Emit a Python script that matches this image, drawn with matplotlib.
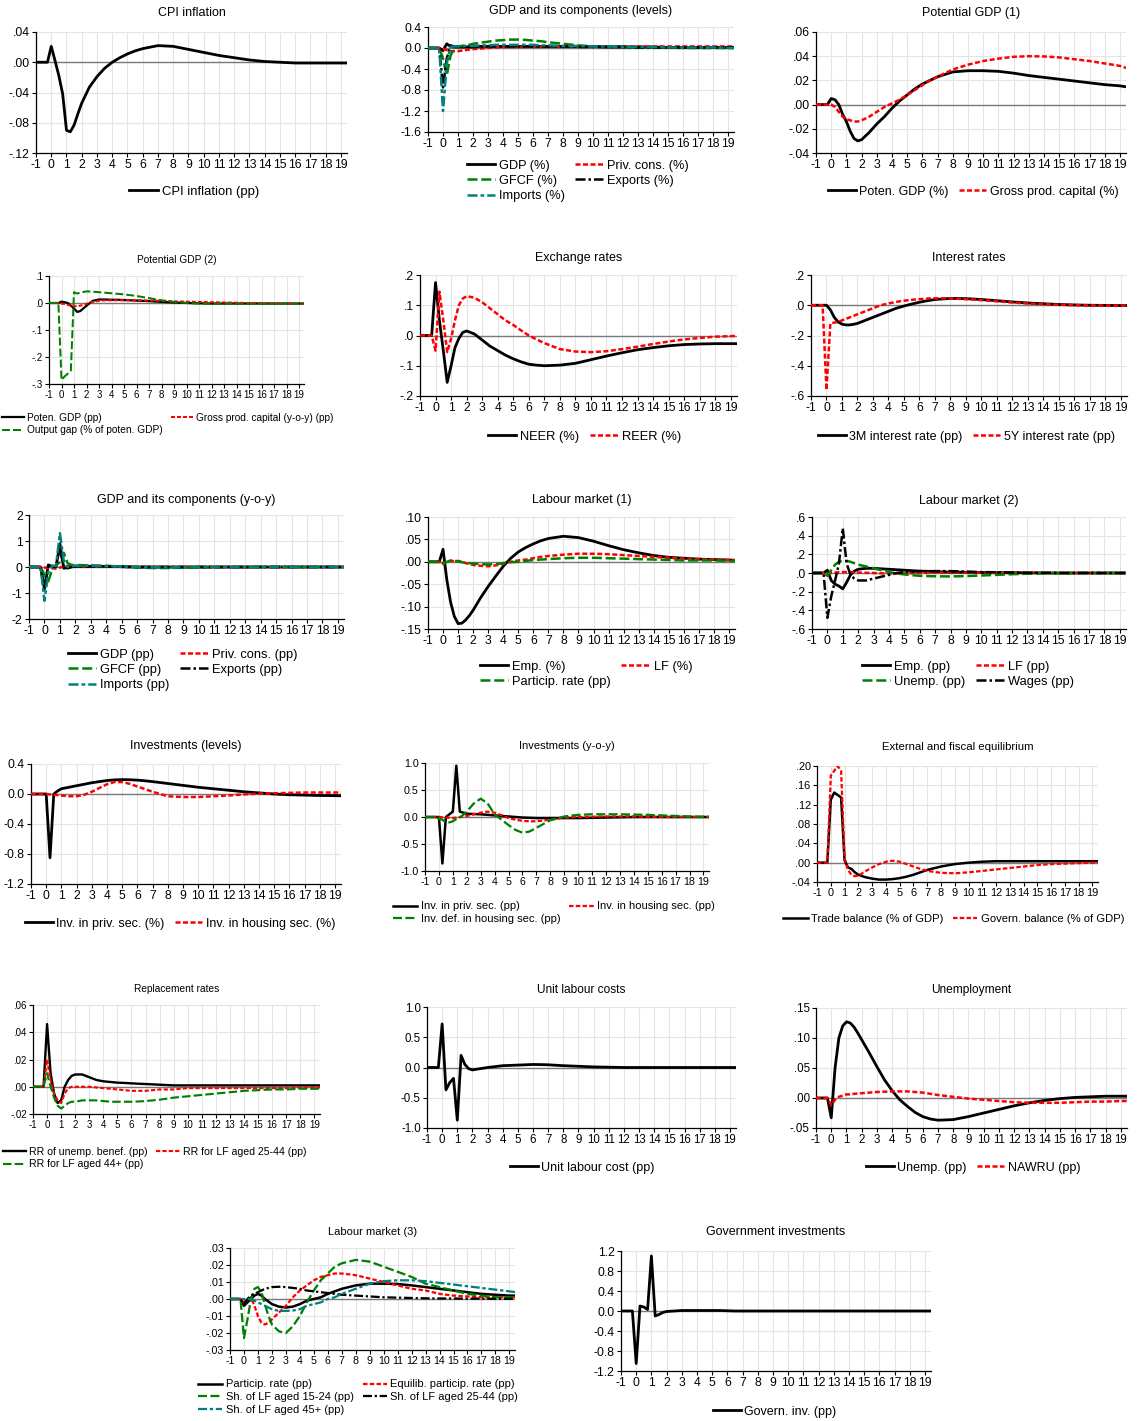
import numpy as np
import matplotlib.pyplot as plt

plt.rcParams['font.family'] = ['Liberation Sans', 'DejaVu Sans']

W, H = 1137, 1421

# horizon in years: quarterly around the shock, coarser further out
X = [-1, -0.25,
     0, 0.25, 0.5, 0.75, 1, 1.25, 1.5, 1.75, 2,
     2.5, 3, 3.5, 4, 4.5, 5, 5.5, 6, 6.5, 7,
     8, 9, 10, 11, 12, 13, 14, 15, 16, 17, 18, 19, 19.5]
XTICKS = list(range(-1, 20))

# --- CPI inflation
cpi = [0, 0,
       0.021, 0.002, -0.018, -0.042, -0.090, -0.092, -0.083, -0.068, -0.054,
       -0.033, -0.019, -0.008, 0.000, 0.006, 0.011, 0.015, 0.018, 0.020, 0.022,
       0.021, 0.017, 0.013, 0.009, 0.006, 0.003, 0.001, 0.000, -0.001, -0.001, -0.001, -0.001, -0.001]

# --- GDP and its components (levels)
gdp_lvl = [0, 0,
           -0.05, 0.08, 0.03, 0.02, 0.02, 0.02, 0.02, 0.02, 0.02,
           0.03, 0.03, 0.03, 0.03, 0.03, 0.03, 0.03, 0.03, 0.03, 0.03,
           0.03, 0.03, 0.03, 0.02, 0.02, 0.02, 0.02, 0.01, 0.01, 0.01, 0.01, 0.01, 0.01]
cons_lvl = [0, 0,
            -0.01, -0.04, -0.06, -0.06, -0.06, -0.05, -0.04, -0.03, -0.02,
            -0.01, 0.00, 0.01, 0.02, 0.02, 0.02, 0.02, 0.03, 0.03, 0.03,
            0.03, 0.03, 0.03, 0.03, 0.03, 0.03, 0.03, 0.03, 0.03, 0.03, 0.03, 0.03, 0.03]
gfcf_lvl = [0, 0,
            -0.20, -0.52, -0.15, 0.00, 0.03, 0.04, 0.05, 0.06, 0.08,
            0.10, 0.12, 0.14, 0.15, 0.16, 0.16, 0.155, 0.14, 0.13, 0.11,
            0.08, 0.05, 0.03, 0.02, 0.02, 0.01, 0.01, 0.01, 0.00, 0.00, 0.00, 0.00, 0.00]
exp_lvl = [0, 0,
           -0.75, -0.20, 0.05, 0.03, 0.02, 0.02, 0.02, 0.02, 0.02,
           0.02, 0.03, 0.03, 0.03, 0.03, 0.03, 0.03, 0.03, 0.03, 0.03,
           0.03, 0.02, 0.02, 0.02, 0.02, 0.01, 0.01, 0.01, 0.01, 0.01, 0.01, 0.01, 0.01]
imp_lvl = [0, 0,
           -1.20, -0.30, 0.02, 0.03, 0.03, 0.03, 0.04, 0.04, 0.04,
           0.05, 0.05, 0.06, 0.06, 0.06, 0.06, 0.06, 0.06, 0.05, 0.05,
           0.04, 0.04, 0.03, 0.03, 0.02, 0.02, 0.02, 0.01, 0.01, 0.01, 0.01, 0.00, 0.00]

# --- Potential GDP (1)
pot_gdp = [0, 0,
           0.005, 0.004, 0.000, -0.008, -0.014, -0.022, -0.028, -0.030, -0.029,
           -0.023, -0.016, -0.010, -0.003, 0.003, 0.008, 0.013, 0.017, 0.020, 0.023,
           0.027, 0.028, 0.028, 0.0275, 0.026, 0.024, 0.0225, 0.021, 0.0195, 0.018, 0.0165, 0.0155, 0.0145]
gross_cap = [0, 0,
             0.000, -0.002, -0.006, -0.010, -0.012, -0.013, -0.014, -0.014, -0.013,
             -0.010, -0.006, -0.002, 0.001, 0.004, 0.008, 0.012, 0.016, 0.020, 0.023,
             0.029, 0.033, 0.036, 0.038, 0.0395, 0.040, 0.0398, 0.039, 0.0375, 0.036, 0.034, 0.032, 0.030]

# --- Potential GDP (2)
pot_pp = [0, 0,
          0.005, 0.003, 0.000, -0.010, -0.020, -0.033, -0.030, -0.020, -0.010,
          0.008, 0.013, 0.013, 0.012, 0.012, 0.011, 0.010, 0.009, 0.008, 0.007,
          0.004, 0.002, 0.000, -0.001, -0.002, -0.002, -0.002, -0.002, -0.002, -0.002, -0.002, -0.002, -0.002]
cap_yoy = [0, 0,
           -0.002, -0.004, -0.007, -0.010, -0.012, -0.012, -0.010, -0.006, -0.003,
           0.004, 0.008, 0.010, 0.010, 0.010, 0.010, 0.010, 0.010, 0.010, 0.009,
           0.008, 0.006, 0.005, 0.004, 0.003, 0.002, 0.001, 0.000, -0.001, -0.002, -0.002, -0.003, -0.003]
out_gap = [0, 0,
           -0.285, -0.272, -0.262, -0.250, 0.040, 0.035, 0.038, 0.041, 0.043,
           0.042, 0.040, 0.038, 0.036, 0.034, 0.032, 0.029, 0.026, 0.022, 0.018,
           0.010, 0.004, 0.000, -0.002, -0.003, -0.003, -0.003, -0.003, -0.003, -0.003, -0.003, -0.003, -0.003]

# --- Exchange rates
neer = [0, 0,
        0.175, 0.050, -0.050, -0.155, -0.100, -0.040, -0.010, 0.010, 0.015,
        0.005, -0.015, -0.035, -0.050, -0.065, -0.077, -0.087, -0.095, -0.098, -0.100,
        -0.098, -0.092, -0.080, -0.068, -0.057, -0.047, -0.040, -0.034, -0.030, -0.028, -0.027, -0.027, -0.027]
reer = [0, 0,
        -0.050, 0.145, 0.050, -0.055, -0.010, 0.050, 0.100, 0.122, 0.130,
        0.125, 0.110, 0.090, 0.070, 0.050, 0.035, 0.017, 0.000, -0.013, -0.025,
        -0.045, -0.053, -0.055, -0.052, -0.045, -0.037, -0.028, -0.020, -0.013, -0.008, -0.004, -0.002, -0.001]

# --- Interest rates
rate_3m = [0, 0,
           0.000, -0.030, -0.080, -0.110, -0.125, -0.130, -0.130, -0.126, -0.120,
           -0.100, -0.080, -0.060, -0.040, -0.020, -0.005, 0.008, 0.020, 0.030, 0.038,
           0.045, 0.044, 0.038, 0.030, 0.022, 0.015, 0.010, 0.005, 0.002, 0.000, -0.001, -0.002, -0.002]
rate_5y = [0, 0,
           -0.560, -0.120, -0.115, -0.110, -0.100, -0.090, -0.080, -0.070, -0.060,
           -0.040, -0.020, 0.000, 0.012, 0.022, 0.030, 0.036, 0.040, 0.044, 0.046,
           0.045, 0.040, 0.034, 0.026, 0.018, 0.012, 0.007, 0.003, 0.001, -0.001, -0.002, -0.002, -0.002]

# --- GDP and its components (y-o-y)
gdp_yoy = [0, 0,
           -0.85, 0.08, 0.02, 0.00, 0.90, -0.05, -0.02, 0.01, 0.02,
           0.03, 0.03, 0.03, 0.02, 0.02, 0.01, 0.01, 0.00, 0.00, 0.00,
           0.00, 0.00, 0.00, 0.00, 0.00, 0.00, 0.00, 0.00, 0.00, 0.00, 0.00, 0.00, 0.00]
cons_yoy = [0, 0,
            -0.02, -0.04, -0.05, -0.06, -0.02, 0.02, 0.04, 0.04, 0.04,
            0.03, 0.02, 0.02, 0.01, 0.01, 0.01, 0.00, 0.00, 0.00, 0.00,
            0.00, 0.00, 0.00, 0.00, 0.00, 0.00, 0.00, 0.00, 0.00, 0.00, 0.00, 0.00, 0.00]
gfcf_yoy = [0, 0,
            -0.30, -0.55, -0.10, 0.05, 0.20, 0.55, 0.15, 0.08, 0.08,
            0.07, 0.06, 0.05, 0.05, 0.03, 0.02, 0.00, -0.02, -0.03, -0.04,
            -0.04, -0.03, -0.02, -0.01, -0.01, -0.01, 0.00, 0.00, 0.00, 0.00, 0.00, 0.00, 0.00]
exp_yoy = [0, 0,
           -0.85, 0.05, 0.02, 0.00, 0.80, 0.00, -0.05, 0.00, 0.02,
           0.02, 0.02, 0.02, 0.02, 0.01, 0.01, 0.00, 0.00, 0.00, 0.00,
           0.00, 0.00, 0.00, 0.00, 0.00, 0.00, 0.00, 0.00, 0.00, 0.00, 0.00, 0.00, 0.00]
imp_yoy = [0, 0,
           -1.30, -0.20, 0.05, 0.05, 1.30, 0.25, 0.00, 0.03, 0.05,
           0.05, 0.05, 0.04, 0.03, 0.03, 0.02, 0.01, 0.00, -0.01, -0.01,
           -0.01, -0.01, 0.00, 0.00, 0.00, 0.00, 0.00, 0.00, 0.00, 0.00, 0.00, 0.00, 0.00]

# --- Labour market (1)
emp_pct = [0, 0,
           0.028, -0.040, -0.090, -0.122, -0.138, -0.137, -0.130, -0.120, -0.108,
           -0.080, -0.055, -0.032, -0.010, 0.008, 0.022, 0.032, 0.040, 0.047, 0.052,
           0.057, 0.054, 0.046, 0.036, 0.027, 0.020, 0.014, 0.010, 0.008, 0.006, 0.005, 0.004, 0.003]
lf_pct = [0, 0,
          -0.005, 0.000, 0.003, 0.001, 0.002, 0.000, -0.003, -0.005, -0.007,
          -0.009, -0.010, -0.008, -0.004, 0.000, 0.003, 0.005, 0.008, 0.011, 0.013,
          0.016, 0.018, 0.018, 0.017, 0.015, 0.013, 0.011, 0.009, 0.007, 0.006, 0.005, 0.004, 0.004]
part_pp = [0, 0,
           -0.003, 0.000, 0.002, 0.002, 0.001, -0.001, -0.002, -0.003, -0.004,
           -0.005, -0.006, -0.005, -0.003, -0.001, 0.000, 0.002, 0.004, 0.005, 0.006,
           0.008, 0.009, 0.009, 0.008, 0.007, 0.006, 0.005, 0.004, 0.003, 0.003, 0.003, 0.002, 0.002]

# --- Labour market (2)
emp_pp = [0, 0,
          0.030, -0.080, -0.120, -0.140, -0.170, -0.100, -0.020, 0.020, 0.040,
          0.050, 0.050, 0.045, 0.040, 0.035, 0.030, 0.025, 0.020, 0.018, 0.015,
          0.010, 0.008, 0.005, 0.004, 0.003, 0.002, 0.001, 0.000, 0.000, 0.000, 0.000, 0.000, 0.000]
lf_pp = [0, 0,
         -0.005, 0.000, 0.005, 0.008, 0.010, 0.010, 0.010, 0.008, 0.005,
         0.002, 0.000, -0.003, -0.005, -0.005, -0.004, -0.002, 0.000, 0.002, 0.003,
         0.005, 0.005, 0.003, 0.002, 0.000, 0.000, 0.000, 0.000, 0.000, 0.000, 0.000, 0.000, 0.000]
unemp_pp = [0, 0,
            -0.030, 0.030, 0.090, 0.120, 0.130, 0.130, 0.120, 0.105, 0.090,
            0.070, 0.050, 0.030, 0.010, -0.005, -0.015, -0.023, -0.030, -0.033, -0.035,
            -0.037, -0.033, -0.027, -0.020, -0.013, -0.008, -0.004, -0.002, 0.000, 0.000, 0.000, 0.000, 0.000]
wages_pp = [0, 0,
            -0.480, -0.250, -0.080, 0.100, 0.480, 0.100, -0.020, -0.060, -0.080,
            -0.080, -0.060, -0.040, -0.020, 0.000, 0.010, 0.015, 0.020, 0.020, 0.020,
            0.020, 0.015, 0.010, 0.008, 0.005, 0.002, 0.002, 0.000, 0.000, 0.000, 0.000, 0.000, 0.000]

# --- Investments (levels)
inv_priv = [0, 0,
            0.000, -0.850, 0.000, 0.040, 0.070, 0.080, 0.090, 0.100, 0.110,
            0.130, 0.150, 0.165, 0.180, 0.188, 0.192, 0.190, 0.185, 0.176, 0.165,
            0.140, 0.115, 0.090, 0.070, 0.050, 0.030, 0.015, 0.000, -0.010, -0.015, -0.020, -0.022, -0.025]
inv_house = [0, 0,
             0.000, -0.005, -0.010, -0.015, -0.020, -0.025, -0.030, -0.030, -0.030,
             -0.010, 0.030, 0.080, 0.130, 0.160, 0.160, 0.135, 0.100, 0.065, 0.030,
             -0.030, -0.040, -0.040, -0.030, -0.020, -0.005, 0.005, 0.010, 0.015, 0.020, 0.020, 0.020, 0.020]

# --- Investments (y-o-y)
inv_priv_yoy = [0, 0,
                0.000, -0.860, 0.000, 0.050, 0.100, 0.950, 0.100, 0.080, 0.060,
                0.055, 0.050, 0.040, 0.030, 0.020, 0.010, 0.000, -0.010, -0.015, -0.020,
                -0.020, -0.020, -0.020, -0.015, -0.010, -0.005, 0.000, 0.000, 0.000, 0.000, 0.000, 0.000, 0.000]
inv_house_yoy = [0, 0,
                 0.000, -0.005, -0.010, -0.015, -0.020, -0.010, 0.000, 0.010, 0.020,
                 0.050, 0.080, 0.100, 0.080, 0.030, -0.020, -0.050, -0.070, -0.080, -0.080,
                 -0.050, -0.010, 0.000, 0.005, 0.010, 0.010, 0.010, 0.005, 0.000, 0.000, 0.000, 0.000, 0.000]
inv_def_yoy = [0, 0,
               -0.030, -0.050, -0.100, -0.100, -0.080, -0.040, -0.010, 0.040, 0.100,
               0.250, 0.340, 0.250, 0.050, -0.050, -0.150, -0.240, -0.290, -0.270, -0.200,
               -0.060, 0.010, 0.040, 0.050, 0.050, 0.050, 0.045, 0.040, 0.030, 0.020, 0.010, 0.005, 0.000]

# --- External and fiscal equilibrium
trade_bal = [0, 0,
             0.130, 0.145, 0.140, 0.135, 0.005, -0.010, -0.013, -0.020, -0.025,
             -0.030, -0.033, -0.035, -0.035, -0.034, -0.032, -0.029, -0.025, -0.020, -0.015,
             -0.008, -0.003, 0.000, 0.002, 0.003, 0.003, 0.003, 0.003, 0.003, 0.003, 0.003, 0.003, 0.003]
gov_bal = [0, 0,
           0.180, 0.190, 0.200, 0.190, 0.010, -0.015, -0.025, -0.028, -0.027,
           -0.018, -0.010, -0.003, 0.002, 0.004, 0.002, -0.003, -0.008, -0.013, -0.017,
           -0.021, -0.022, -0.020, -0.017, -0.014, -0.011, -0.008, -0.005, -0.003, -0.002, -0.001, 0.000, 0.000]

# --- Replacement rates
rr_ub = [0, 0,
         0.046, 0.010, -0.005, -0.012, -0.010, 0.000, 0.005, 0.008, 0.009,
         0.009, 0.007, 0.005, 0.004, 0.0035, 0.003, 0.0028, 0.0025, 0.0022, 0.002,
         0.0015, 0.001, 0.001, 0.001, 0.001, 0.001, 0.001, 0.001, 0.001, 0.001, 0.001, 0.001, 0.001]
rr_2544 = [0, 0,
           0.020, 0.005, -0.005, -0.010, -0.012, -0.005, -0.001, 0.000, 0.000,
           0.000, 0.000, -0.0005, -0.001, -0.0015, -0.002, -0.0025, -0.003, -0.003, -0.003,
           -0.002, -0.002, -0.001, -0.001, -0.001, -0.001, -0.001, -0.001, -0.001, -0.001, -0.0005, -0.0005, -0.0005]
rr_44 = [0, 0,
         0.010, 0.000, -0.008, -0.014, -0.016, -0.014, -0.012, -0.011, -0.011,
         -0.010, -0.010, -0.010, -0.0105, -0.011, -0.011, -0.011, -0.011, -0.0108, -0.0105,
         -0.0095, -0.008, -0.007, -0.006, -0.005, -0.004, -0.003, -0.0025, -0.002, -0.002, -0.0015, -0.0015, -0.0015]

# --- Unit labour costs
ulc = [0, 0,
       0.720, -0.370, -0.250, -0.180, -0.870, 0.200, 0.050, -0.020, -0.040,
       -0.020, 0.000, 0.015, 0.030, 0.035, 0.040, 0.045, 0.050, 0.048, 0.045,
       0.030, 0.020, 0.010, 0.005, 0.000, 0.000, 0.000, 0.000, 0.000, 0.000, 0.000, 0.000, 0.000]

# --- Unemployment
unemp = [0, 0,
         -0.033, 0.050, 0.100, 0.120, 0.127, 0.125, 0.118, 0.108, 0.097,
         0.075, 0.052, 0.030, 0.012, -0.003, -0.014, -0.024, -0.031, -0.035, -0.037,
         -0.036, -0.031, -0.025, -0.019, -0.013, -0.008, -0.004, -0.001, 0.001, 0.002, 0.003, 0.003, 0.003]
nawru = [0, 0,
         -0.012, -0.003, 0.002, 0.004, 0.006, 0.006, 0.007, 0.0075, 0.008,
         0.009, 0.010, 0.0105, 0.011, 0.011, 0.011, 0.010, 0.009, 0.007, 0.005,
         0.002, -0.001, -0.003, -0.005, -0.007, -0.008, -0.008, -0.008, -0.007, -0.006, -0.006, -0.005, -0.005]

# --- Labour market (3)
part_rate = [0, 0,
             -0.004, -0.002, 0.000, 0.002, 0.003, 0.002, 0.000, -0.0015, -0.003,
             -0.0045, -0.005, -0.0045, -0.003, -0.001, 0.000, 0.001, 0.003, 0.0045, 0.006,
             0.008, 0.009, 0.009, 0.0088, 0.008, 0.007, 0.006, 0.005, 0.004, 0.003, 0.0025, 0.002, 0.002]
eq_part = [0, 0,
           -0.002, 0.000, 0.001, -0.004, -0.010, -0.014, -0.015, -0.014, -0.012,
           -0.008, -0.004, 0.001, 0.005, 0.008, 0.011, 0.013, 0.014, 0.015, 0.015,
           0.014, 0.012, 0.010, 0.008, 0.006, 0.005, 0.003, 0.002, 0.0015, 0.001, 0.001, 0.001, 0.001]
lf_1524 = [0, 0,
           -0.023, -0.012, 0.000, 0.006, 0.007, 0.004, -0.003, -0.010, -0.015,
           -0.019, -0.020, -0.016, -0.010, -0.002, 0.005, 0.011, 0.015, 0.019, 0.021,
           0.023, 0.022, 0.019, 0.016, 0.013, 0.009, 0.007, 0.005, 0.003, 0.002, 0.001, 0.001, 0.0005]
lf_2544 = [0, 0,
           -0.003, 0.000, 0.002, 0.003, 0.004, 0.005, 0.006, 0.0065, 0.007,
           0.0072, 0.007, 0.0065, 0.006, 0.005, 0.0045, 0.004, 0.0035, 0.003, 0.0025,
           0.002, 0.0015, 0.001, 0.0008, 0.0006, 0.0004, 0.0003, 0.0003, 0.0002, 0.0002, 0.0001, 0.0001, 0.0001]
lf_45 = [0, 0,
         0.000, 0.000, 0.000, -0.001, -0.002, -0.003, -0.004, -0.005, -0.006,
         -0.007, -0.007, -0.0068, -0.006, -0.004, -0.003, -0.002, 0.000, 0.001, 0.003,
         0.006, 0.009, 0.0105, 0.011, 0.011, 0.0105, 0.0095, 0.0085, 0.0075, 0.0065, 0.0055, 0.0045, 0.004]

# --- Government investments
gov_inv = [0, 0,
           -1.050, 0.100, 0.080, 0.030, 1.100, -0.100, -0.070, -0.030, -0.010,
           0.000, 0.010, 0.010, 0.010, 0.010, 0.010, 0.010, 0.005, 0.000, 0.000,
           0.000, 0.000, 0.000, 0.000, 0.000, 0.000, 0.000, 0.000, 0.000, 0.000, 0.000, 0.000, 0.000]

# colour and dash pattern per line type
STYLES = {
    'k': ('black', '-'),
    'r': ('#ff0000', (0, (2, 1))),
    'g': ('#008000', (0, (4, 1.5))),
    'kd': ('black', (0, (4, 1.2, 1, 1.2))),
    't': ('#008080', (0, (4, 1.2, 1.5, 1.2))),
}

fig = plt.figure(figsize=(W / 100, H / 100), dpi=100)


def panel(box, title_y, title, ylim, yticks, ylabels, lines, leg_xy,
          fs=9, lw=2.0, lfs=None):
    l, t, r, b = box
    ax = fig.add_axes([l / W, 1 - b / H, (r - l) / W, (b - t) / H])
    ax.set_xlim(-1, 19.4)
    ax.set_ylim(*ylim)
    ax.set_xticks(XTICKS)
    ax.set_xticklabels([str(v) for v in XTICKS], fontsize=fs - 0.3)
    ax.set_yticks(yticks)
    ax.set_yticklabels(ylabels, fontsize=fs - 0.3)
    ax.grid(True, color='#e4e4e4', lw=0.8)
    ax.set_axisbelow(True)
    ax.axhline(0, color='#7a7a7a', lw=1.0, zorder=1.5)
    for s in ('top', 'right'):
        ax.spines[s].set_visible(False)
    for s in ('left', 'bottom'):
        ax.spines[s].set_linewidth(0.9)
    ax.tick_params(length=3, width=0.8, pad=1.5)

    handles = []
    for vals, key, label in lines:
        col, ls = STYLES[key]
        width = lw if key == 'k' else lw * 0.9
        h, = ax.plot(X, vals, color=col, ls=ls, lw=width, label=label,
                     solid_joinstyle='round', zorder=3)
        handles.append(h)

    fig.text((l + r) / 2 / W, 1 - title_y / H, title, ha='center', va='center',
             fontsize=fs)

    # entries run row by row, two per row
    order = handles[0::2] + handles[1::2]
    ncol = 1 if len(handles) == 1 else 2
    lx, ly = leg_xy
    lfs = fs if lfs is None else lfs
    top = ly - lfs * 1.39 * 0.5
    ax.legend(order, [h.get_label() for h in order], ncol=ncol, loc='upper left',
              bbox_to_anchor=(lx / W, 1 - top / H), bbox_transform=fig.transFigure,
              frameon=False, fontsize=lfs, handlelength=2.2, handletextpad=0.3,
              columnspacing=0.8, labelspacing=0.25, borderpad=0, borderaxespad=0)
    return ax


panel((36, 32, 347, 153), 13, 'CPI inflation', (-0.12, 0.04),
      [0.04, 0, -0.04, -0.08, -0.12], ['.04', '.00', '-.04', '-.08', '-.12'],
      [(cpi, 'k', 'CPI inflation (pp)')], (129, 192), lfs=9.4)

panel((428, 27, 734, 132), 11, 'GDP and its components (levels)', (-1.6, 0.4),
      [0.4, 0, -0.4, -0.8, -1.2, -1.6], ['0.4', '0.0', '-0.4', '-0.8', '-1.2', '-1.6'],
      [(gdp_lvl, 'k', 'GDP (%)'), (cons_lvl, 'r', 'Priv. cons. (%)'),
       (gfcf_lvl, 'g', 'GFCF (%)'), (exp_lvl, 'kd', 'Exports (%)'),
       (imp_lvl, 't', 'Imports (%)')], (467, 166), lfs=9.2)

panel((816, 32, 1126, 153), 13, 'Potential GDP (1)', (-0.04, 0.06),
      [0.06, 0.04, 0.02, 0, -0.02, -0.04], ['.06', '.04', '.02', '.00', '-.02', '-.04'],
      [(pot_gdp, 'k', 'Poten. GDP (%)'), (gross_cap, 'r', 'Gross prod. capital (%)')],
      (828, 192))

panel((49, 276, 304, 384), 260, 'Potential GDP (2)', (-0.3, 0.1),
      [0.1, 0, -0.1, -0.2, -0.3], ['.1', '.0', '-.1', '-.2', '-.3'],
      [(pot_pp, 'k', 'Poten. GDP (pp)'),
       (cap_yoy, 'r', 'Gross prod. capital (y-o-y) (pp)'),
       (out_gap, 'g', 'Output gap (% of poten. GDP)')], (2, 418), fs=7.3, lw=1.6)

panel((420, 275, 737, 396), 258, 'Exchange rates', (-0.2, 0.2),
      [0.2, 0.1, 0, -0.1, -0.2], ['.2', '.1', '.0', '-.1', '-.2'],
      [(neer, 'k', 'NEER (%)'), (reer, 'r', 'REER (%)')], (488, 437), lfs=9.3)

panel((811, 275, 1127, 396), 258, 'Interest rates', (-0.6, 0.2),
      [0.2, 0, -0.2, -0.4, -0.6], ['.2', '.0', '-.2', '-.4', '-.6'],
      [(rate_3m, 'k', '3M interest rate (pp)'), (rate_5y, 'r', '5Y interest rate (pp)')],
      (818, 437))

panel((29, 515, 344, 619), 500, 'GDP and its components (y-o-y)', (-2, 2),
      [2, 1, 0, -1, -2], ['2', '1', '0', '-1', '-2'],
      [(gdp_yoy, 'k', 'GDP (pp)'), (cons_yoy, 'r', 'Priv. cons. (pp)'),
       (gfcf_yoy, 'g', 'GFCF (pp)'), (exp_yoy, 'kd', 'Exports (pp)'),
       (imp_yoy, 't', 'Imports (pp)')], (68, 655), lfs=9.3)

panel((428, 517, 735, 629), 500, 'Labour market (1)', (-0.15, 0.10),
      [0.10, 0.05, 0, -0.05, -0.10, -0.15], ['.10', '.05', '.00', '-.05', '-.10', '-.15'],
      [(emp_pct, 'k', 'Emp. (%)'), (lf_pct, 'r', 'LF (%)'),
       (part_pp, 'g', 'Particip. rate (pp)')], (480, 667), lfs=9.3)

panel((812, 517, 1126, 629), 501, 'Labour market (2)', (-0.6, 0.6),
      [0.6, 0.4, 0.2, 0, -0.2, -0.4, -0.6], ['.6', '.4', '.2', '.0', '-.2', '-.4', '-.6'],
      [(emp_pp, 'k', 'Emp. (pp)'), (lf_pp, 'r', 'LF (pp)'),
       (unemp_pp, 'g', 'Unemp. (pp)'), (wages_pp, 'kd', 'Wages (pp)')], (862, 667), lfs=9.3)

panel((31, 764, 341, 884), 746, 'Investments (levels)', (-1.2, 0.4),
      [0.4, 0, -0.4, -0.8, -1.2], ['0.4', '0.0', '-0.4', '-0.8', '-1.2'],
      [(inv_priv, 'k', 'Inv. in priv. sec. (%)'),
       (inv_house, 'r', 'Inv. in housing sec. (%)')], (25, 924))

panel((425, 763, 709, 871), 746, 'Investments (y-o-y)', (-1, 1),
      [1, 0.5, 0, -0.5, -1], ['1.0', '0.5', '0.0', '-0.5', '-1.0'],
      [(inv_priv_yoy, 'k', 'Inv. in priv. sec. (pp)'),
       (inv_house_yoy, 'r', 'Inv. in housing sec. (pp)'),
       (inv_def_yoy, 'g', 'Inv. def. in housing sec. (pp)')], (393, 907), fs=8, lw=1.8)

panel((817, 766, 1098, 882), 747, 'External and fiscal equilibrium', (-0.04, 0.20),
      [0.20, 0.16, 0.12, 0.08, 0.04, 0, -0.04],
      ['.20', '.16', '.12', '.08', '.04', '.00', '-.04'],
      [(trade_bal, 'k', 'Trade balance (% of GDP)'),
       (gov_bal, 'r', 'Govern. balance (% of GDP)')], (783, 920), fs=8.2, lw=1.8, lfs=8.1)

panel((33, 1005, 320, 1114), 989, 'Replacement rates', (-0.02, 0.06),
      [0.06, 0.04, 0.02, 0, -0.02], ['.06', '.04', '.02', '.00', '-.02'],
      [(rr_ub, 'k', 'RR of unemp. benef. (pp)'), (rr_2544, 'r', 'RR for LF aged 25-44 (pp)'),
       (rr_44, 'g', 'RR for LF aged 44+ (pp)')], (3, 1152), fs=7.3, lw=1.7, lfs=7.6)

panel((427, 1007, 736, 1128), 990, 'Unit labour costs', (-1, 1),
      [1, 0.5, 0, -0.5, -1], ['1.0', '0.5', '0.0', '-0.5', '-1.0'],
      [(ulc, 'k', 'Unit labour cost (pp)')], (510, 1168), fs=8.6, lfs=9.0)

panel((816, 1008, 1127, 1128), 990, 'Unemployment', (-0.05, 0.15),
      [0.15, 0.10, 0.05, 0, -0.05], ['.15', '.10', '.05', '.00', '-.05'],
      [(unemp, 'k', 'Unemp. (pp)'), (nawru, 'r', 'NAWRU (pp)')], (866, 1168), fs=8.6, lfs=9.0)

panel((230, 1248, 515, 1350), 1232, 'Labour market (3)', (-0.03, 0.03),
      [0.03, 0.02, 0.01, 0, -0.01, -0.02, -0.03],
      ['.03', '.02', '.01', '.00', '-.01', '-.02', '-.03'],
      [(part_rate, 'k', 'Particip. rate (pp)'), (eq_part, 'r', 'Equilib. particip. rate (pp)'),
       (lf_1524, 'g', 'Sh. of LF aged 15-24 (pp)'), (lf_2544, 'kd', 'Sh. of LF aged 25-44 (pp)'),
       (lf_45, 't', 'Sh. of LF aged 45+ (pp)')], (198, 1385), fs=8, lw=1.8)

panel((621, 1251, 931, 1371), 1232, 'Government investments', (-1.2, 1.2),
      [1.2, 0.8, 0.4, 0, -0.4, -0.8, -1.2],
      ['1.2', '0.8', '0.4', '0.0', '-0.4', '-0.8', '-1.2'],
      [(gov_inv, 'k', 'Govern. inv. (pp)')], (713, 1412))

fig.savefig('out.png', dpi=100)
